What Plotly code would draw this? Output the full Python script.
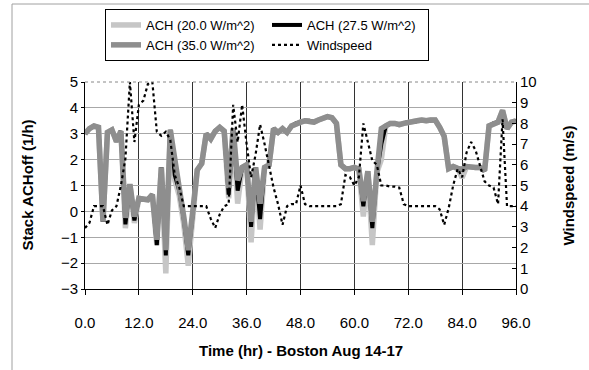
import plotly.graph_objects as go

hours = list(range(0, 97))

ach_20 = [3.0, 3.2, 3.3, 3.25, -0.4, 3.05, 3.15, 2.7, 3.1, -0.65,
          1.05, -0.45, 0.5, 0.45, 0.45, 0.65, -1.3, 1.7, -2.4, 3.15,
          1.2, 0.6, -0.5, -2.1, -0.3, 1.6, 1.85, 3.0, 2.8, 3.1,
          3.25, 3.1, 0.5, 3.2, 0.3, 1.7, 1.8, -1.2, 1.7, -0.7,
          1.7, 1.8, 3.2, 3.05, 3.2, 3.05, 3.3, 3.4, 3.45, 3.5,
          3.5, 3.45, 3.53, 3.6, 3.66, 3.62, 3.4, 1.8, 1.65, 1.65,
          1.7, 1.63, -0.2, 1.55, -1.3, 1.5, 2.0, 3.3, 3.4, 3.4,
          3.35, 3.4, 3.45, 3.45, 3.5, 3.53, 3.5, 3.53, 3.53, 3.25,
          2.9, 1.65, 1.73, 1.66, 1.3, 1.73, 1.7, 1.7, 1.7, 1.57,
          3.3, 3.4, 3.45, 3.9, 3.2, 3.45, 3.5]

ach_27 = [3.0, 3.2, 3.3, 3.25, -0.4, 3.05, 3.15, 2.7, 3.1, -0.5,
          1.05, -0.35, 0.5, 0.45, 0.45, 0.65, -1.3, 1.7, -1.7, 3.15,
          1.4, 0.8, -0.3, -1.7, -0.1, 1.6, 1.85, 3.0, 2.8, 3.1,
          3.25, 3.1, 0.65, 3.2, 0.8, 1.7, 1.8, -0.6, 1.7, -0.3,
          1.7, 1.8, 3.2, 3.05, 3.2, 3.05, 3.3, 3.4, 3.45, 3.5,
          3.5, 3.45, 3.53, 3.6, 3.66, 3.62, 3.4, 1.8, 1.65, 1.65,
          1.7, 1.63, 0.2, 1.55, -0.65, 1.5, 2.6, 3.3, 3.4, 3.4,
          3.35, 3.4, 3.45, 3.45, 3.5, 3.53, 3.5, 3.53, 3.53, 3.25,
          2.9, 1.65, 1.73, 1.66, 1.6, 1.73, 1.7, 1.7, 1.7, 1.57,
          3.3, 3.4, 3.45, 3.9, 3.2, 3.45, 3.5]

ach_35 = [3.0, 3.2, 3.3, 3.25, -0.4, 3.05, 3.15, 2.7, 3.1, -0.25,
          1.05, -0.2, 0.5, 0.45, 0.45, 0.65, -1.1, 1.7, -1.5, 3.15,
          1.9, 0.9, -0.2, -1.5, 0.0, 1.6, 1.85, 3.0, 2.8, 3.1,
          3.25, 3.1, 0.9, 3.2, 1.2, 1.7, 1.8, -0.4, 1.7, 0.3,
          1.7, 1.8, 3.2, 3.05, 3.2, 3.05, 3.3, 3.4, 3.45, 3.5,
          3.5, 3.45, 3.53, 3.6, 3.66, 3.62, 3.4, 1.8, 1.65, 1.65,
          1.7, 1.63, 0.4, 1.55, -0.4, 1.5, 3.2, 3.3, 3.4, 3.4,
          3.35, 3.4, 3.45, 3.45, 3.5, 3.53, 3.5, 3.53, 3.53, 3.25,
          2.9, 1.65, 1.73, 1.66, 1.63, 1.73, 1.7, 1.7, 1.7, 1.57,
          3.3, 3.4, 3.45, 3.9, 3.2, 3.45, 3.5]

windspeed = [2.95, 3.2, 4.0, 4.0, 4.0, 3.1, 3.8, 4.0, 5.0, 6.3,
             10.0, 7.1, 8.9, 9.1, 9.9, 10.0, 7.6, 7.4, 7.6, 7.2,
             5.5, 4.9, 4.0, 4.0, 4.0, 4.0, 4.0, 4.0, 3.4, 2.95,
             3.6, 4.0, 4.1, 8.9, 7.1, 8.9, 7.0, 5.4, 6.5, 7.95,
             7.0, 5.9, 4.9, 4.1, 3.1, 4.0, 4.1, 4.1, 5.0, 4.1,
             4.0, 4.0, 4.0, 4.0, 4.0, 4.0, 4.0, 4.1, 5.5, 5.4,
             5.0, 5.4, 8.0, 7.1, 6.2, 6.0, 5.0, 5.0, 4.95, 4.95,
             4.9, 4.1, 4.0, 4.0, 4.0, 4.0, 4.0, 4.0, 4.0, 3.85,
             3.1, 3.9, 5.0, 5.8, 5.4, 6.6, 7.1, 6.7, 6.0, 5.2,
             5.0, 4.9, 4.1, 8.2, 4.0, 4.0, 4.0]

x_ticks = [0, 12, 24, 36, 48, 60, 72, 84, 96]
x_tick_labels = ["0.0", "12.0", "24.0", "36.0", "48.0", "60.0", "72.0", "84.0", "96.0"]
y_ticks = [-3, -2, -1, 0, 1, 2, 3, 4, 5]
y2_ticks = [0, 1, 2, 3, 4, 5, 6, 7, 8, 9, 10]

FONT = "Liberation Sans, Arial, sans-serif"
W, H = 589, 370
L, R, T, B = 85, 73, 82, 81
pw, ph = W - L - R, H - T - B

fig = go.Figure()
fig.add_trace(go.Scatter(x=hours, y=ach_20, mode="lines", name="ACH (20.0 W/m^2)",
                         line=dict(color="#c6c6c6", width=5.5)))
fig.add_trace(go.Scatter(x=hours, y=ach_27, mode="lines", name="ACH (27.5 W/m^2)",
                         line=dict(color="#000000", width=4)))
fig.add_trace(go.Scatter(x=hours, y=ach_35, mode="lines", name="ACH (35.0 W/m^2)",
                         line=dict(color="#8e8e8e", width=5.5)))
fig.add_trace(go.Scatter(x=hours, y=windspeed, mode="lines", name="Windspeed", yaxis="y2",
                         line=dict(color="#000000", width=2.2, dash="3px,3px")))

fig.update_layout(
    width=W, height=H,
    margin=dict(l=L, r=R, t=T, b=B, pad=0, autoexpand=False),
    paper_bgcolor="white", plot_bgcolor="white",
    font=dict(family=FONT, size=15, color="black"),
    showlegend=True,
    legend=dict(orientation="h", xref="container", yref="container",
                x=105 / W, y=1 - 9 / H,
                xanchor="left", yanchor="top",
                entrywidth=116, entrywidthmode="pixels",
                bordercolor="black", borderwidth=1, bgcolor="white",
                font=dict(family=FONT, size=13, color="black"),
                traceorder="normal"),
    xaxis=dict(range=[0, 96], tickvals=x_ticks, ticktext=x_tick_labels,
               showgrid=True, gridcolor="#333333", gridwidth=1,
               showline=True, linecolor="black", linewidth=1,
               ticks="outside", ticklen=5, tickcolor="black",
               ticklabelstandoff=15,
               zeroline=False, tickfont=dict(size=15)),
    yaxis=dict(range=[-3, 5], tickvals=y_ticks,
               showgrid=True, gridcolor="#a8a8a8", gridwidth=1,
               showline=True, linecolor="black", linewidth=1,
               ticks="outside", ticklen=3, tickcolor="black",
               zeroline=False, tickfont=dict(size=15)),
    yaxis2=dict(range=[0, 10], tickvals=y2_ticks, overlaying="y", side="right",
                showgrid=False, showline=True, linecolor="black", linewidth=1,
                ticks="inside", ticklen=4, tickcolor="black",
                zeroline=False, tickfont=dict(size=15)),
    annotations=[
        dict(text="<b>Time (hr) - Boston Aug 14-17</b>", xref="paper", yref="paper",
             x=0.5, y=-(350 - T - ph) / ph, xanchor="center", yanchor="middle",
             showarrow=False, font=dict(size=15)),
        dict(text="<b>Stack ACHoff (1/h)</b>", xref="paper", yref="paper",
             x=(27 - L) / pw, y=0.5, xanchor="center", yanchor="middle",
             textangle=-90, showarrow=False, font=dict(size=15)),
        dict(text="<b>Windspeed (m/s)</b>", xref="paper", yref="paper",
             x=(568 - L) / pw, y=0.5, xanchor="center", yanchor="middle",
             textangle=-90, showarrow=False, font=dict(size=15)),
    ],
    shapes=[
        dict(type="rect", xref="paper", yref="paper",
             x0=(12 - L) / pw, x1=2.0, y0=-2.0, y1=1 + (T - 4) / ph,
             line=dict(color="#a0a0a0", width=1), layer="below"),
        dict(type="line", xref="paper", yref="paper", x0=0, x1=1, y0=1, y1=1,
             line=dict(color="#888888", width=1, dash="dot")),
    ],
)

fig.write_html("out.html",
               config={"displayModeBar": False},
               post_script="document.body.style.margin='0';document.body.style.overflow='hidden';")
